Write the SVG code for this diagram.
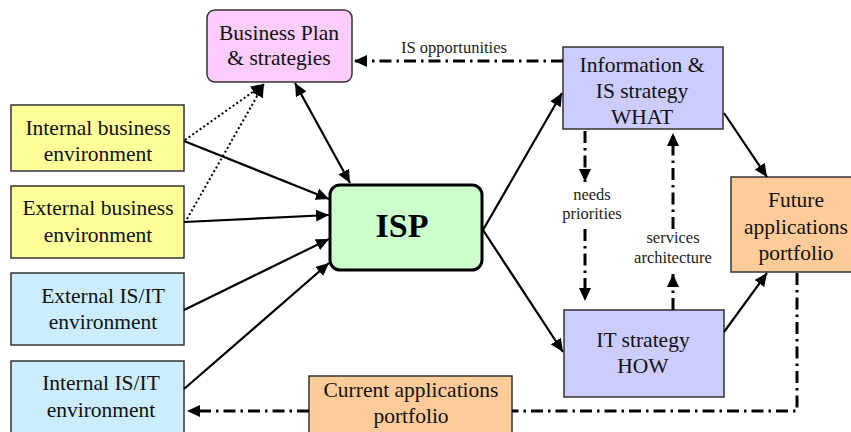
<svg xmlns="http://www.w3.org/2000/svg" width="851" height="432" viewBox="0 0 851 432" font-family="Liberation Serif, serif">
  <defs>
    <marker id="ah" markerUnits="userSpaceOnUse" markerWidth="14" markerHeight="12" refX="13" refY="6" orient="auto-start-reverse">
      <path d="M0,0 L13,6 L0,12 z" fill="#000"/>
    </marker>
    <style>
      .box { stroke: #333; stroke-width: 1.5; }
      .t { font-size: 21.5px; fill: #111; text-anchor: middle; }
      .s { font-size: 16.5px; fill: #222; text-anchor: middle; }
      .solid { fill: none; stroke: #000; stroke-width: 2.2; }
      .dot { fill: none; stroke: #000; stroke-width: 2; stroke-dasharray: 2 2.5; }
      .dd { fill: none; stroke: #000; stroke-width: 3; stroke-dasharray: 12 5 2.5 5; }
    </style>
  </defs>
  <rect width="851" height="432" fill="#fff"/>

  <g id="business-plan">
    <rect class="box" x="207" y="10" width="145" height="72" rx="8" fill="#FFCCFF"/>
    <text class="t" x="279" y="40">Business Plan</text>
    <text class="t" x="279" y="65">&amp; strategies</text>
  </g>

  <g id="internal-business">
    <rect class="box" x="11" y="105" width="173" height="66" fill="#FFFF99"/>
    <text class="t" x="98" y="135">Internal business</text>
    <text class="t" x="98" y="161">environment</text>
  </g>

  <g id="external-business">
    <rect class="box" x="11" y="186" width="173" height="72" fill="#FFFF99"/>
    <text class="t" x="98" y="215">External business</text>
    <text class="t" x="98" y="242">environment</text>
  </g>

  <g id="external-isit">
    <rect class="box" x="11" y="273" width="173" height="72" fill="#CCECFF"/>
    <text class="t" x="103" y="303">External IS/IT</text>
    <text class="t" x="103" y="329">environment</text>
  </g>

  <g id="internal-isit">
    <rect class="box" x="11" y="361" width="173" height="80" fill="#CCECFF"/>
    <text class="t" x="101" y="390">Internal IS/IT</text>
    <text class="t" x="101" y="417">environment</text>
  </g>

  <g id="isp">
    <rect x="330" y="185" width="152" height="85" rx="10" fill="#CCFFCC" stroke="#000" stroke-width="3"/>
    <text x="402" y="237" font-size="34" font-weight="bold" text-anchor="middle" fill="#000">ISP</text>
  </g>

  <g id="information-strategy">
    <rect class="box" x="563" y="47" width="160" height="82" fill="#CCCCFF"/>
    <text class="t" x="642" y="72">Information &amp;</text>
    <text class="t" x="642" y="98">IS strategy</text>
    <text class="t" x="642" y="124">WHAT</text>
  </g>

  <g id="it-strategy">
    <rect class="box" x="564" y="310" width="160" height="87" fill="#CCCCFF"/>
    <text class="t" x="643" y="347">IT strategy</text>
    <text class="t" x="643" y="373">HOW</text>
  </g>

  <g id="future-portfolio">
    <rect class="box" x="731" y="177" width="125" height="95" fill="#FFCC99"/>
    <text class="t" x="796" y="207">Future</text>
    <text class="t" x="796" y="234">applications</text>
    <text class="t" x="796" y="260">portfolio</text>
  </g>

  <g id="current-portfolio">
    <rect class="box" x="309" y="376" width="203" height="70" fill="#FFCC99"/>
    <text class="t" x="411" y="397">Current applications</text>
    <text class="t" x="411" y="423">portfolio</text>
  </g>

  <g id="connectors">
    <!-- inputs to ISP -->
    <line class="solid" x1="184" y1="141" x2="329" y2="199" marker-end="url(#ah)"/>
    <line class="solid" x1="184" y1="222" x2="329" y2="215" marker-end="url(#ah)"/>
    <line class="solid" x1="184" y1="310" x2="329" y2="239" marker-end="url(#ah)"/>
    <line class="solid" x1="184" y1="389" x2="329" y2="263" marker-end="url(#ah)"/>
    <!-- environment feeds business plan -->
    <line class="dot" x1="185" y1="140" x2="264" y2="84" marker-end="url(#ah)"/>
    <line class="dot" x1="187" y1="219" x2="264" y2="84" marker-end="url(#ah)"/>
    <!-- business plan <-> ISP -->
    <line class="solid" x1="295" y1="83" x2="350" y2="183" marker-start="url(#ah)" marker-end="url(#ah)"/>
    <!-- ISP outputs -->
    <polyline class="solid" points="562,93 483,230 563,352" marker-start="url(#ah)" marker-end="url(#ah)"/>
    <!-- strategies to future portfolio -->
    <line class="solid" x1="724" y1="113" x2="767" y2="177" marker-end="url(#ah)"/>
    <line class="solid" x1="724" y1="332" x2="767" y2="273" marker-end="url(#ah)"/>
    <!-- IS opportunities -->
    <line class="dd" x1="563" y1="61" x2="354" y2="61" marker-end="url(#ah)"/>
    <text class="s" x="454" y="53">IS opportunities</text>
    <!-- needs / priorities -->
    <line class="dd" x1="585" y1="131" x2="585" y2="182" marker-end="url(#ah)"/>
    <line class="dd" x1="585" y1="229" x2="585" y2="301" marker-end="url(#ah)"/>
    <text class="s" x="592" y="200">needs</text>
    <text class="s" x="592" y="219">priorities</text>
    <!-- services / architecture -->
    <line class="dd" x1="673" y1="310" x2="673" y2="274" marker-end="url(#ah)"/>
    <line class="dd" x1="673" y1="229" x2="673" y2="133" marker-end="url(#ah)"/>
    <text class="s" x="673" y="243">services</text>
    <text class="s" x="673" y="263">architecture</text>
    <!-- future becomes current -->
    <polyline class="dd" points="797,273 797,411 512,411"/>
    <line class="dd" x1="309" y1="411" x2="187" y2="411" marker-end="url(#ah)"/>
  </g>
</svg>
